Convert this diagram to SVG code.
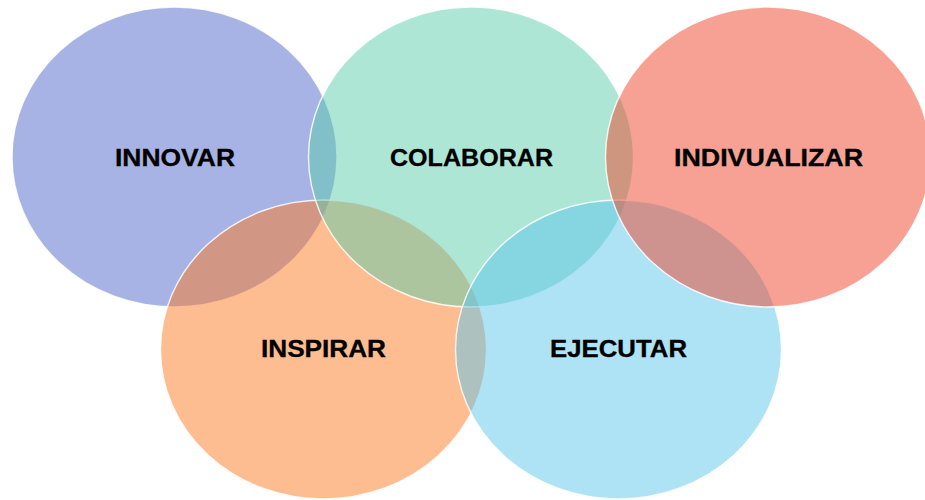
<svg xmlns="http://www.w3.org/2000/svg" width="925" height="500" viewBox="0 0 925 500">
  <style>
    .disc { stroke: #ffffff; stroke-width: 1.4; stroke-opacity: 0.85; fill-opacity: 0.5; }
    .label { font-family: "Liberation Sans", Arial, sans-serif; font-weight: bold; font-size: 23px; fill: #000000; stroke: #000000; stroke-width: 0.3; text-anchor: middle; }
  </style>
  <rect width="925" height="500" fill="#ffffff"/>
  <!-- discs stacked bottom to top: blue, orange, green, light blue, red -->
  <g id="innovar">
    <ellipse class="disc" cx="174.5" cy="157" rx="162.5" ry="150" fill="#4F67C9"/>
  </g>
  <g id="inspirar">
    <ellipse class="disc" cx="323.5" cy="349.5" rx="163" ry="149.5" fill="#FB7B23"/>
  </g>
  <g id="colaborar">
    <ellipse class="disc" cx="471" cy="157" rx="162.5" ry="150" fill="#5DCDAD"/>
  </g>
  <g id="ejecutar">
    <ellipse class="disc" cx="618.5" cy="349.5" rx="163" ry="149.5" fill="#5DC5EB"/>
  </g>
  <g id="individualizar">
    <ellipse class="disc" cx="768" cy="157" rx="162.5" ry="150" fill="#ED4327"/>
  </g>
  <!-- labels drawn above all discs -->
  <g id="labels">
    <text class="label" x="175" y="165.5" textLength="120" lengthAdjust="spacingAndGlyphs">INNOVAR</text>
    <text class="label" x="471.5" y="165.5" textLength="163" lengthAdjust="spacingAndGlyphs">COLABORAR</text>
    <text class="label" x="768.5" y="165.5" textLength="189" lengthAdjust="spacingAndGlyphs">INDIVUALIZAR</text>
    <text class="label" x="323.5" y="357" textLength="125" lengthAdjust="spacingAndGlyphs">INSPIRAR</text>
    <text class="label" x="618.5" y="357" textLength="137" lengthAdjust="spacingAndGlyphs">EJECUTAR</text>
  </g>
  <g id="connectors"/>
</svg>
